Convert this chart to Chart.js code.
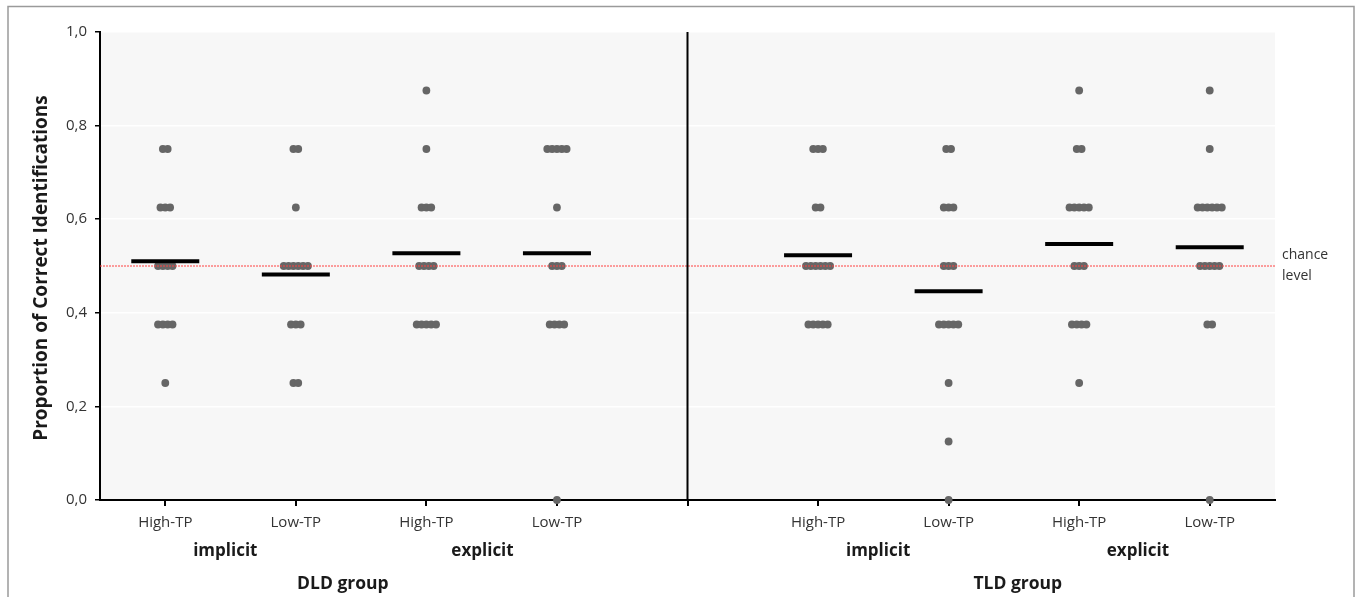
<!DOCTYPE html>
<html>
<head>
<meta charset="utf-8">
<script src="https://cdn.jsdelivr.net/npm/chart.js@4.4.1/dist/chart.umd.min.js"></script>
<style>
    html, body { margin: 0; padding: 0; background: #fff; }
    #wrap { width: 1356px; height: 597px; position: relative; }
</style>
</head>
<body>
<div id="wrap"><canvas id="chart"></canvas></div>
<script>
// x slots: 1-4 DLD, 5 = divider, 6-9 TLD
const tickLabels = ['High-TP', 'Low-TP', 'High-TP', 'Low-TP', '', 'High-TP', 'Low-TP', 'High-TP', 'Low-TP'];
const conditionSlots = [1, 2, 3, 4, 6, 7, 8, 9];
const dividerSlot = 5;
const yTickLabels = ['0,0', '0,2', '0,4', '0,6', '0,8', '1,0'];

const taskLabels = ['implicit', 'explicit', 'implicit', 'explicit'];
const taskLabelSlots = [1.46, 3.43, 6.46, 8.45];
const groupLabels = ['DLD group', 'TLD group'];
const groupLabelSlots = [2.36, 7.53];

// individual proportions of correct identifications
const dldImplicitHigh = [0.75, 0.75, 0.625, 0.625, 0.625, 0.5, 0.5, 0.5, 0.5, 0.375, 0.375, 0.375, 0.375, 0.25];
const dldImplicitLow = [0.75, 0.75, 0.625, 0.5, 0.5, 0.5, 0.5, 0.5, 0.5, 0.375, 0.375, 0.375, 0.25, 0.25];
const dldExplicitHigh = [0.875, 0.75, 0.625, 0.625, 0.625, 0.5, 0.5, 0.5, 0.5, 0.375, 0.375, 0.375, 0.375, 0.375];
const dldExplicitLow = [0.75, 0.75, 0.75, 0.75, 0.75, 0.625, 0.5, 0.5, 0.5, 0.375, 0.375, 0.375, 0.375, 0];
const tldImplicitHigh = [0.75, 0.75, 0.75, 0.625, 0.625, 0.5, 0.5, 0.5, 0.5, 0.5, 0.5, 0.375, 0.375, 0.375, 0.375, 0.375];
const tldImplicitLow = [0.75, 0.75, 0.625, 0.625, 0.625, 0.5, 0.5, 0.5, 0.375, 0.375, 0.375, 0.375, 0.375, 0.25, 0.125, 0];
const tldExplicitHigh = [0.875, 0.75, 0.75, 0.625, 0.625, 0.625, 0.625, 0.625, 0.5, 0.5, 0.5, 0.375, 0.375, 0.375, 0.375, 0.25];
const tldExplicitLow = [0.875, 0.75, 0.625, 0.625, 0.625, 0.625, 0.625, 0.625, 0.5, 0.5, 0.5, 0.5, 0.5, 0.375, 0.375, 0];

const scores = [dldImplicitHigh, dldImplicitLow, dldExplicitHigh, dldExplicitLow,
    tldImplicitHigh, tldImplicitLow, tldExplicitHigh, tldExplicitLow];
const meanScores = [0.51, 0.482, 0.527, 0.527, 0.523, 0.446, 0.547, 0.54];
const chanceLevel = 0.5;

const DOT_STEP = 0.037; // horizontal spread of tied scores, in slot units

// spread equal values side by side (simple dot plot)
function swarm(values, slot) {
    const total = {};
    values.forEach(v => total[v] = (total[v] || 0) + 1);
    const seen = {};
    return values.map(v => {
        const j = seen[v] = (seen[v] === undefined ? 0 : seen[v] + 1);
        return { x: slot + (j - (total[v] - 1) / 2) * DOT_STEP, y: v };
    });
}

const dotPoints = scores.flatMap((vals, i) => swarm(vals, conditionSlots[i]));
const meanPoints = meanScores.map((m, i) => ({ x: conditionSlots[i], y: m }));

const FONT = "'Open Sans', 'Noto Sans', sans-serif";

const decorPlugin = {
    id: 'decor',
    beforeDraw(chart) {
        const { ctx, chartArea: a } = chart;
        ctx.save();
        ctx.fillStyle = '#fff';
        ctx.fillRect(0, 0, chart.width, chart.height);
        ctx.strokeStyle = '#9a9a9a';
        ctx.lineWidth = 1.5;
        ctx.strokeRect(8, 6.5, 1346, 620);
        ctx.fillStyle = '#f7f7f7';
        ctx.fillRect(a.left, a.top, a.right - a.left, a.bottom - a.top);
        ctx.restore();
    },
    afterDraw(chart) {
        const { ctx } = chart;
        const xs = chart.scales.x, ys = chart.scales.y;
        ctx.save();
        ctx.fillStyle = '#1a1a1a';
        ctx.textAlign = 'center';
        ctx.textBaseline = 'middle';
        ctx.font = 'bold 17px ' + FONT;
        taskLabels.forEach((t, i) => ctx.fillText(t, xs.getPixelForValue(taskLabelSlots[i]), 551));
        ctx.font = 'bold 17.5px ' + FONT;
        groupLabels.forEach((t, i) => ctx.fillText(t, xs.getPixelForValue(groupLabelSlots[i]), 584));

        // y axis title
        ctx.save();
        ctx.font = 'bold 19px ' + FONT;
        ctx.translate(42, 268);
        ctx.rotate(-Math.PI / 2);
        ctx.fillText('Proportion of Correct Identifications', 0, 0);
        ctx.restore();

        // chance level note
        const cy = ys.getPixelForValue(chanceLevel);
        ctx.font = '14px ' + FONT;
        ctx.fillStyle = '#333';
        ctx.textAlign = 'left';
        ctx.fillText('chance', chart.chartArea.right + 7, cy - 11);
        ctx.fillText('level', chart.chartArea.right + 7, cy + 10);
        ctx.restore();
    }
};

new Chart(document.getElementById('chart'), {
    type: 'scatter',
    data: {
        datasets: [
            {
                label: 'scores',
                data: dotPoints,
                pointRadius: 3.9,
                pointBackgroundColor: '#666666',
                pointBorderWidth: 0,
                clip: false,
                order: 3
            },
            {
                label: 'chance',
                type: 'line',
                data: [{ x: 0.5, y: chanceLevel }, { x: 9.5, y: chanceLevel }],
                borderColor: '#ff4040',
                borderWidth: 1,
                borderDash: [2, 1],
                pointRadius: 0,
                order: 2
            },
            {
                label: 'means',
                data: meanPoints,
                pointStyle: 'line',
                pointRadius: 34,
                pointBorderColor: '#000',
                pointBorderWidth: 4,
                order: 1
            },
            {
                label: 'divider',
                type: 'line',
                data: [{ x: dividerSlot, y: 0 }, { x: dividerSlot, y: 1 }],
                borderColor: '#000',
                borderWidth: 2,
                pointRadius: 0,
                order: 0
            }
        ]
    },
    options: {
        responsive: true,
        maintainAspectRatio: false,
        animation: false,
        events: [],
        layout: { autoPadding: false, padding: { top: 32, right: 81, left: 0, bottom: 0 } },
        plugins: {
            legend: { display: false },
            tooltip: { enabled: false }
        },
        scales: {
            x: {
                type: 'linear',
                min: 0.5,
                max: 9.5,
                afterBuildTicks: s => { s.ticks = tickLabels.map((_, i) => ({ value: i + 1 })); },
                afterFit: s => { s.height = 97; },
                ticks: {
                    autoSkip: false,
                    maxRotation: 0,
                    padding: 8,
                    color: '#333',
                    font: { family: FONT, size: 15 },
                    callback: v => tickLabels[v - 1]
                },
                grid: {
                    drawOnChartArea: false,
                    drawTicks: true,
                    tickLength: 6,
                    color: '#000',
                    lineWidth: 2
                },
                border: { color: '#000', width: 2 }
            },
            y: {
                min: 0,
                max: 1,
                afterFit: s => { s.width = 100; },
                ticks: {
                    stepSize: 0.2,
                    padding: 8,
                    color: '#333',
                    font: { family: FONT, size: 15 },
                    callback: (v, i) => yTickLabels[i]
                },
                grid: {
                    color: '#ffffff',
                    lineWidth: 1.5,
                    tickColor: '#000',
                    tickLength: 5
                },
                border: { color: '#000', width: 2 }
            }
        }
    },
    plugins: [decorPlugin]
});
</script>
</body>
</html>
